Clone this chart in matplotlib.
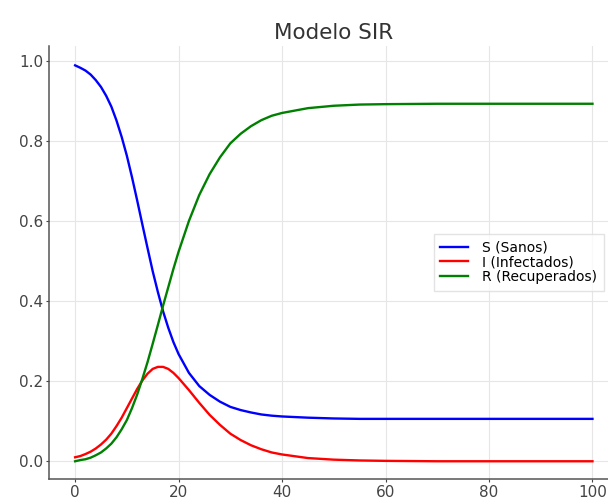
import matplotlib
matplotlib.use("Agg")
import matplotlib.pyplot as plt

# time points (days)
t = [0, 1, 2, 3, 4, 5, 6, 7, 8, 9, 10, 11, 12, 13, 14, 15, 16, 17, 18, 19, 20,
     22, 24, 26, 28, 30, 32, 34, 36, 38, 40, 45, 50, 55, 60, 70, 80, 90, 100]

# fractions
S = [0.990, 0.984, 0.977, 0.967, 0.953, 0.936, 0.914, 0.887, 0.852, 0.811, 0.764,
     0.710, 0.652, 0.592, 0.533, 0.475, 0.423, 0.375, 0.334, 0.298, 0.268,
     0.221, 0.188, 0.166, 0.149, 0.136, 0.128, 0.122, 0.117, 0.114, 0.112,
     0.109, 0.107, 0.106, 0.106, 0.106, 0.106, 0.106, 0.106]
I = [0.010, 0.013, 0.018, 0.024, 0.032, 0.042, 0.054, 0.069, 0.088, 0.109, 0.133,
     0.157, 0.181, 0.202, 0.219, 0.231, 0.236, 0.236, 0.231, 0.221, 0.208,
     0.178, 0.146, 0.116, 0.091, 0.069, 0.053, 0.040, 0.030, 0.022, 0.017,
     0.008, 0.004, 0.002, 0.001, 0.000, 0.000, 0.000, 0.000]
R = [0.000, 0.003, 0.005, 0.009, 0.015, 0.022, 0.032, 0.044, 0.060, 0.080, 0.103,
     0.133, 0.167, 0.206, 0.248, 0.294, 0.341, 0.389, 0.435, 0.481, 0.524,
     0.601, 0.666, 0.718, 0.760, 0.795, 0.819, 0.838, 0.853, 0.864, 0.871,
     0.883, 0.889, 0.892, 0.893, 0.894, 0.894, 0.894, 0.894]

labels = ["S (Sanos)", "I (Infectados)", "R (Recuperados)"]
colors = ["blue", "red", "green"]

text_grey = "#444444"

fig = plt.figure(figsize=(6.08, 5.03), dpi=100)
ax = fig.add_axes([0.081, 0.048, 0.936, 0.861])

for y, lab, c in zip([S, I, R], labels, colors):
    ax.plot(t, y, color=c, lw=1.7, label=lab)

ax.set_xlim(-5, 105)
ax.set_ylim(-0.044, 1.039)
ax.set_xticks([0, 20, 40, 60, 80, 100])
ax.set_yticks([0.0, 0.2, 0.4, 0.6, 0.8, 1.0])

ax.grid(True, color="#e6e6e6", lw=0.8)
ax.set_axisbelow(True)
for side in ["top", "right"]:
    ax.spines[side].set_visible(False)
for side in ["left", "bottom"]:
    ax.spines[side].set_color("#555555")
    ax.spines[side].set_linewidth(1.1)
ax.tick_params(colors=text_grey, labelsize=11, length=2.5, width=0.8, pad=2)

ax.set_title("Modelo SIR", fontsize=15.5, color="#333333", pad=5)

ax.legend(loc="center right", bbox_to_anchor=(0.975, 0.5), fontsize=10,
          labelspacing=0.05, borderaxespad=0, frameon=True, edgecolor="#dddddd",
          fancybox=False, handlelength=2.0, handletextpad=1.0, borderpad=0.5)

plt.savefig("out.png", dpi=100)
